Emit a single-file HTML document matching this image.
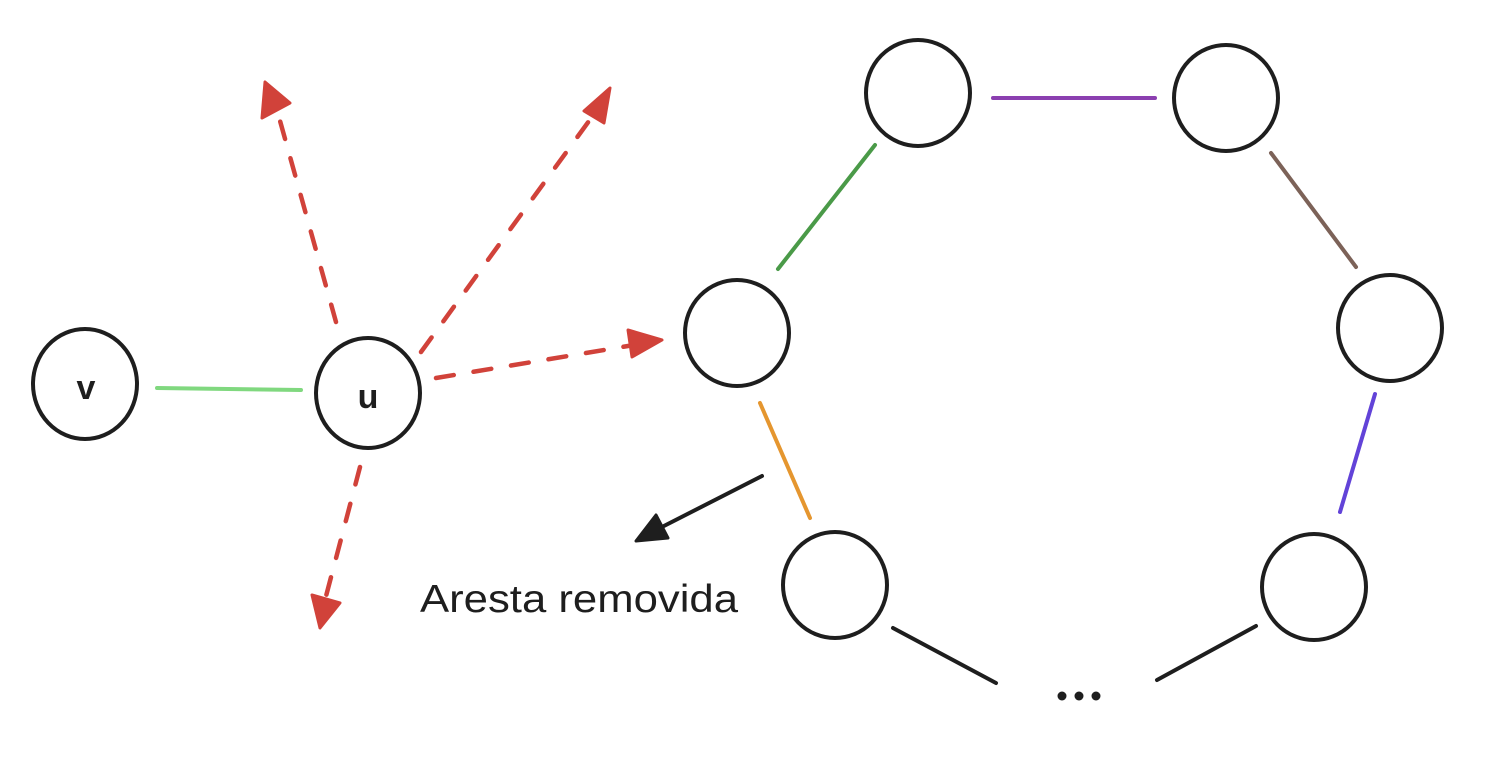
<!DOCTYPE html>
<html><head><style>html,body{margin:0;padding:0;background:#fff}</style></head>
<body>
<svg width="1486" height="754" viewBox="0 0 1486 754" xmlns="http://www.w3.org/2000/svg">
<g fill="none" stroke="#1e1e1e" stroke-width="4">
<ellipse cx="85" cy="384" rx="52" ry="55"/>
<ellipse cx="368" cy="393" rx="52" ry="55"/>
<ellipse cx="918" cy="93" rx="52" ry="53"/>
<ellipse cx="1226" cy="98" rx="52" ry="53"/>
<ellipse cx="1390" cy="328" rx="52" ry="53"/>
<ellipse cx="737" cy="333" rx="52" ry="53"/>
<ellipse cx="835" cy="585" rx="52" ry="53"/>
<ellipse cx="1314" cy="587" rx="52" ry="53"/>
</g>
<g stroke-width="4" stroke-linecap="round" fill="none">
<line x1="157" y1="388" x2="301" y2="390" stroke="#80d87f"/>
<line x1="778" y1="269" x2="875" y2="145" stroke="#4a9a48"/>
<line x1="993" y1="98" x2="1155" y2="98" stroke="#8b3fb0"/>
<line x1="1271" y1="153" x2="1356" y2="267" stroke="#7c6258"/>
<line x1="1375" y1="394" x2="1340" y2="512" stroke="#6243d8"/>
<line x1="760" y1="403" x2="810" y2="518" stroke="#e5962f"/>
<line x1="893" y1="628" x2="996" y2="683" stroke="#1e1e1e"/>
<line x1="1157" y1="680" x2="1256" y2="626" stroke="#1e1e1e"/>
<line x1="762" y1="476" x2="660" y2="528" stroke="#1e1e1e"/>
</g>
<polygon points="636,541 656,515 668,538" fill="#1e1e1e" stroke="#1e1e1e" stroke-width="3" stroke-linejoin="round"/>
<g stroke="#d1423a" stroke-width="4.5" stroke-linecap="round" stroke-dasharray="18,20" fill="none">
<line x1="336" y1="322" x2="277" y2="110"/>
<line x1="421" y1="352" x2="597" y2="110"/>
<line x1="436" y1="378" x2="640" y2="344"/>
<line x1="360" y1="467" x2="325" y2="600"/>
</g>
<g fill="#d1423a" stroke="#d1423a" stroke-width="3" stroke-linejoin="round">
<polygon points="265,82 262,118 290,103"/>
<polygon points="610,88 584,111 604,123"/>
<polygon points="662,340 628,330 632,357"/>
<polygon points="320,628 312,595 340,603"/>
</g>
<text x="86" y="399" font-family="Liberation Sans, sans-serif" font-size="34" font-weight="bold" text-anchor="middle" fill="#1e1e1e">v</text>
<text x="368" y="408" font-family="Liberation Sans, sans-serif" font-size="34" font-weight="bold" text-anchor="middle" fill="#1e1e1e">u</text>
<text x="420" y="612" font-family="Liberation Sans, sans-serif" font-size="39" textLength="318" lengthAdjust="spacingAndGlyphs" fill="#1e1e1e">Aresta removida</text>
<g fill="#1e1e1e"><circle cx="1062" cy="696" r="4.5"/><circle cx="1079" cy="696" r="4.5"/><circle cx="1096" cy="696" r="4.5"/></g>
</svg>
</body></html>
